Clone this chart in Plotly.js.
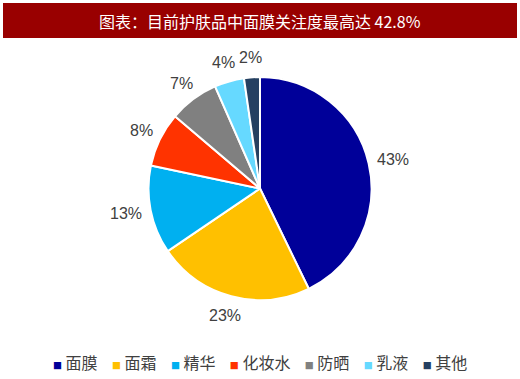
<!DOCTYPE html>
<html><head><meta charset="utf-8">
<script src="https://cdn.plot.ly/plotly-3.0.1.min.js"></script>
<style>html,body{margin:0;padding:0;background:#fff;}#chart{width:520px;height:379px;}</style>
</head><body><div id="chart"></div>
<script>
var categories = ['面膜', '面霜', '精华', '化妆水', '防晒', '乳液', '其他'];
var shares = [42.8, 22.7, 12.8, 7.9, 7.2, 4.3, 2.3];
var labelsText = ['43%', '23%', '13%', '8%', '7%', '4%', '2%'];
var colors = ['#000099', '#FFC000', '#00B0F0', '#FF3300', '#808080', '#66D9FF', '#254061'];
var titleText = '图表：目前护肤品中面膜关注度最高达 42.8%';

var W = 520, H = 379;
function px(x){return x / W;}
function py(y){return 1 - y / H;}

// pie geometry (pixels)
var CX = 260, CY = 188.5, R = 111.5;

var trace = {
  type: 'pie',
  labels: categories,
  values: shares,
  textinfo: 'none',
  sort: false,
  direction: 'clockwise',
  rotation: 0,
  marker: {colors: colors, line: {color: '#ffffff', width: 2}},
  domain: {x: [px(CX - R), px(CX + R)], y: [py(CY + R), py(CY - R)]},
  hoverinfo: 'label+value',
  showlegend: false
};

// outside percentage labels placed along each slice's mid-angle
var total = shares.reduce(function(a, b){return a + b;}, 0);
var annotations = [];
var cum = 0;
shares.forEach(function(v, i){
  var mid = (cum + v / 2) / total * 2 * Math.PI;
  cum += v;
  var s = Math.sin(mid), c = Math.cos(mid);
  var d = R + 12;
  var w = labelsText[i].length * 8.5, h = 15;
  var x = CX + d * s + s * w / 2;
  var y = CY - d * c - c * h / 2;
  annotations.push({
    xref: 'paper', yref: 'paper', x: px(x), y: py(y),
    xanchor: 'center', yanchor: 'middle', showarrow: false,
    text: labelsText[i],
    font: {family: 'Liberation Sans, Arial, sans-serif', size: 16, color: '#404040'}
  });
});

// title
annotations.push({
  xref: 'paper', yref: 'paper', x: 0.5, y: py(21), xanchor: 'center', yanchor: 'middle',
  text: titleText, showarrow: false,
  font: {family: 'Noto Sans CJK SC, sans-serif', size: 16, color: '#ffffff'}
});

// legend row built from the categories and colours
var legendParts = categories.map(function(cat, i){
  return '<span style="color:' + colors[i] + ';font-size:9px">■</span> ' + cat;
});
annotations.push({
  xref: 'paper', yref: 'paper', x: 0.5, y: py(362), xanchor: 'center', yanchor: 'middle',
  text: legendParts.join('&nbsp;&nbsp;&nbsp;&nbsp;'), showarrow: false,
  font: {family: 'Noto Sans CJK SC, sans-serif', size: 16, color: '#404040'}
});

var layout = {
  width: W, height: H,
  margin: {l: 0, r: 0, t: 0, b: 0},
  paper_bgcolor: '#ffffff',
  showlegend: false,
  shapes: [{
    type: 'rect', xref: 'paper', yref: 'paper',
    x0: px(3), x1: px(517), y0: py(38), y1: py(3),
    fillcolor: '#990000', line: {width: 0}, layer: 'below'
  }],
  annotations: annotations
};

Plotly.newPlot('chart', [trace], layout, {displayModeBar: false, staticPlot: true});
</script></body></html>
